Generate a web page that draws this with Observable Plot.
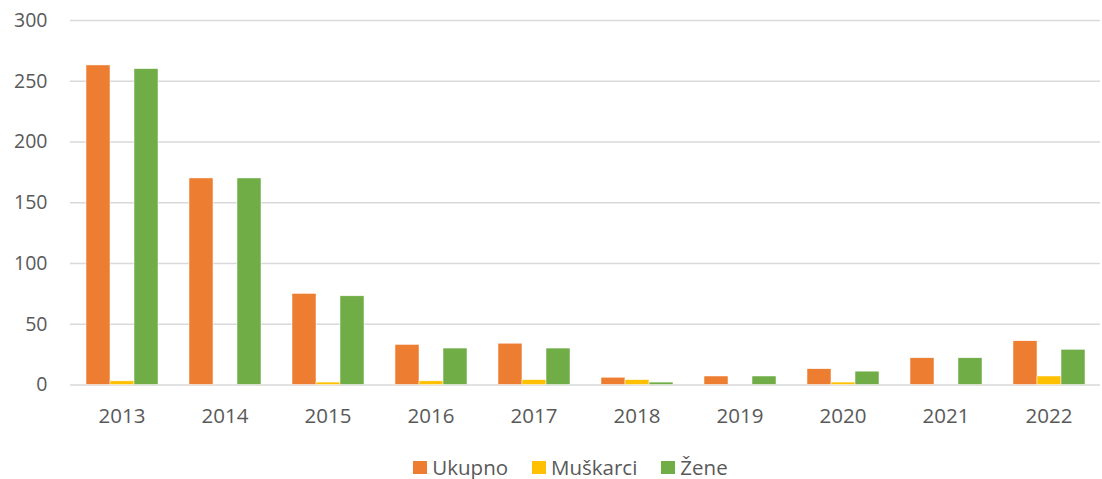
<!DOCTYPE html>
<html>
<head>
<meta charset="utf-8">
<script src="https://cdn.jsdelivr.net/npm/d3@7"></script>
<script src="https://cdn.jsdelivr.net/npm/@observablehq/plot@0.6"></script>
<style>
  body { margin: 0; background: #fff; font-family: "Open Sans", sans-serif; }
  #legend { display: flex; justify-content: center; gap: 24px; margin-top: 14px; font-size: 20.5px; color: #595959; line-height: 26px; padding-left: 39px; }
  #legend span.item { display: flex; align-items: center; gap: 5px; }
  #legend span.sw { width: 14px; height: 13px; display: inline-block; }
</style>
</head>
<body>
<div id="chart"></div>
<div id="legend"></div>
<script>
const years = ["2013","2014","2015","2016","2017","2018","2019","2020","2021","2022"];
const series = ["Ukupno","Muškarci","Žene"];
const colors = ["#ED7D31","#FFC000","#70AD47"];
const ukupno   = [263,170,75,33,34,6,7,13,22,36];
const muskarci = [3,0,2,3,4,4,0,2,0,7];
const zene     = [260,170,73,30,30,2,7,11,22,29];
const yTicks = [0,50,100,150,200,250,300];

const values = [ukupno, muskarci, zene];
const data = [];
years.forEach((yr, i) => series.forEach((s, j) => data.push({year: yr, series: s, value: values[j][i]})));

const chart = Plot.plot({
  width: 1102,
  height: 440,
  marginLeft: 69,
  marginRight: 1,
  marginTop: 20,
  marginBottom: 55.5,
  style: {fontFamily: "Open Sans, sans-serif", fontSize: "19.5px", color: "#595959", background: "white"},
  fx: {domain: years, padding: 0, label: null, tickSize: 0, tickPadding: 23, axis: "bottom"},
  x: {domain: series, axis: null, paddingInner: 0, paddingOuter: 0.6},
  y: {domain: [0, 300], ticks: yTicks, tickSize: 0, tickPadding: 23, label: null, tickFormat: d3.format("d")},
  color: {domain: series, range: colors},
  marks: [
    Plot.ruleY(yTicks, {stroke: "#D9D9D9", strokeWidth: 1.5}),
    Plot.barY(data, {fx: "year", x: "series", y: "value", fill: "series", stroke: "white", strokeWidth: 0.5})
  ]
});
document.getElementById("chart").appendChild(chart);
d3.select(chart).selectAll("g[aria-label='fx-axis tick label'] text, g[aria-label='fx-axis'] text").style("font-size", "20.5px");

const legend = document.getElementById("legend");
series.forEach((s, j) => {
  const item = document.createElement("span");
  item.className = "item";
  const sw = document.createElement("span");
  sw.className = "sw";
  sw.style.background = colors[j];
  item.appendChild(sw);
  item.appendChild(document.createTextNode(s));
  legend.appendChild(item);
});
</script>
</body>
</html>
